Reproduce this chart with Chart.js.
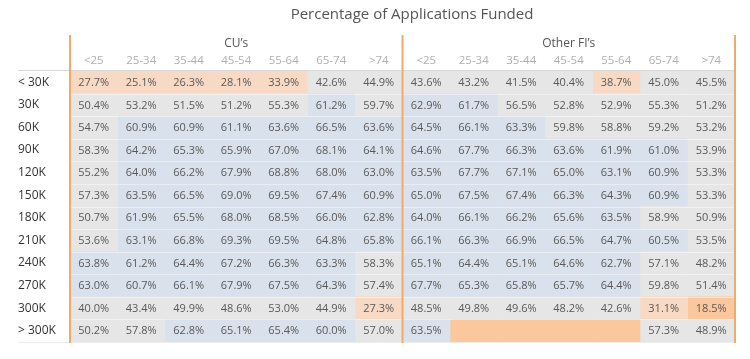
<!DOCTYPE html>
<html>
<head>
<meta charset="utf-8">
<script src="https://cdn.jsdelivr.net/npm/chart.js@4/dist/chart.umd.min.js"></script>
<style>
  html, body { margin: 0; padding: 0; background: #ffffff; }
  #wrap { width: 750px; height: 359px; position: relative; }
</style>
</head>
<body>
<div id="wrap"><canvas id="c"></canvas></div>
<script>
// ---- Data ----
const chartTitle = "Percentage of Applications Funded";
const groups = ["CU’s", "Other FI’s"];
const ages = ["<25", "25-34", "35-44", "45-54", "55-64", "65-74", ">74"];
const incomeRows = ["< 30K", "30K", "60K", "90K", "120K", "150K", "180K", "210K", "240K", "270K", "300K", "> 300K"];

// CU's values: one array per income row, columns follow ages
const cuValues = [
  [27.7, 25.1, 26.3, 28.1, 33.9, 42.6, 44.9],
  [50.4, 53.2, 51.5, 51.2, 55.3, 61.2, 59.7],
  [54.7, 60.9, 60.9, 61.1, 63.6, 66.5, 63.6],
  [58.3, 64.2, 65.3, 65.9, 67.0, 68.1, 64.1],
  [55.2, 64.0, 66.2, 67.9, 68.8, 68.0, 63.0],
  [57.3, 63.5, 66.5, 69.0, 69.5, 67.4, 60.9],
  [50.7, 61.9, 65.5, 68.0, 68.5, 66.0, 62.8],
  [53.6, 63.1, 66.8, 69.3, 69.5, 64.8, 65.8],
  [63.8, 61.2, 64.4, 67.2, 66.3, 63.3, 58.3],
  [63.0, 60.7, 66.1, 67.9, 67.5, 64.3, 57.4],
  [40.0, 43.4, 49.9, 48.6, 53.0, 44.9, 27.3],
  [50.2, 57.8, 62.8, 65.1, 65.4, 60.0, 57.0]
];
// Other FI's values (null = no label shown, drawn as lowest band)
const otherValues = [
  [43.6, 43.2, 41.5, 40.4, 38.7, 45.0, 45.5],
  [62.9, 61.7, 56.5, 52.8, 52.9, 55.3, 51.2],
  [64.5, 66.1, 63.3, 59.8, 58.8, 59.2, 53.2],
  [64.6, 67.7, 66.3, 63.6, 61.9, 61.0, 53.9],
  [63.5, 67.7, 67.1, 65.0, 63.1, 60.9, 53.3],
  [65.0, 67.5, 67.4, 66.3, 64.3, 60.9, 53.3],
  [64.0, 66.1, 66.2, 65.6, 63.5, 58.9, 50.9],
  [66.1, 66.3, 66.9, 66.5, 64.7, 60.5, 53.5],
  [65.1, 64.4, 65.1, 64.6, 62.7, 57.1, 48.2],
  [67.7, 65.3, 65.8, 65.7, 64.4, 59.8, 51.4],
  [48.5, 49.8, 49.6, 48.2, 42.6, 31.1, 18.5],
  [63.5, null, null, null, null, 57.3, 48.9]
];

// ---- Colour bands ----
function cellColor(v) {
  if (v === null || v < 20) return '#fbc89d';
  if (v < 40) return '#f8d9c4';
  if (v < 60) return '#e6e6e6';
  return '#d9e1ec';
}

const FONT = "'Open Sans', 'DejaVu Sans', sans-serif";
const columnLabels = groups.flatMap(() => ages);
const groupValues = [cuValues, otherValues];

const datasets = [];
groupValues.forEach((vals, g) => {
  ages.forEach((age, a) => {
    const colVals = vals.map(row => row[a]);
    datasets.push({
      label: groups[g] + ' ' + age,
      data: incomeRows.map(() => 1),
      cellValues: colVals,
      backgroundColor: colVals.map(cellColor),
      borderWidth: 0,
      barPercentage: 1,
      categoryPercentage: 1,
      xAxisID: 'x',
      yAxisID: 'y'
    });
  });
});

const decorPlugin = {
  id: 'decor',
  beforeDraw(chart) {
    const ctx = chart.ctx;
    ctx.save();
    ctx.fillStyle = '#ffffff';
    ctx.fillRect(0, 0, chart.width, chart.height);
    ctx.restore();
  },
  afterDatasetsDraw(chart) {
    const ctx = chart.ctx;
    const area = chart.chartArea;
    const x = chart.scales.x;
    const yAx = chart.scales.y;
    ctx.save();
    // faint row separators
    ctx.strokeStyle = 'rgba(255,255,255,0.45)';
    ctx.lineWidth = 1;
    for (let i = 1; i < incomeRows.length; i++) {
      const py = Math.round((yAx.getPixelForValue(i - 1) + yAx.getPixelForValue(i)) / 2) + 0.5;
      ctx.beginPath();
      ctx.moveTo(area.left, py);
      ctx.lineTo(area.right, py);
      ctx.stroke();
    }
    // cell labels
    ctx.font = "11px " + FONT;
    ctx.fillStyle = '#595959';
    ctx.textAlign = 'center';
    ctx.textBaseline = 'middle';
    chart.data.datasets.forEach((ds, i) => {
      const meta = chart.getDatasetMeta(i);
      meta.data.forEach((el, j) => {
        const v = ds.cellValues[j];
        if (v === null) return;
        const p = el.getCenterPoint();
        ctx.fillText(v.toFixed(1) + '%', p.x, p.y + 0.5);
      });
    });
    // horizontal rule lines
    ctx.strokeStyle = '#d9d9d9';
    ctx.lineWidth = 1;
    ctx.beginPath();
    ctx.moveTo(yAx.left, Math.round(area.top) - 0.5);
    ctx.lineTo(area.right, Math.round(area.top) - 0.5);
    ctx.stroke();
    ctx.strokeStyle = '#ececec';
    ctx.beginPath();
    ctx.moveTo(yAx.left, Math.round(area.bottom) + 0.5);
    ctx.lineTo(area.right, Math.round(area.bottom) + 0.5);
    ctx.stroke();
    // orange panel separators
    ctx.strokeStyle = '#f2aa6c';
    ctx.lineWidth = 2;
    const top = chart.scales.xGroup.top + 2;
    [0, ages.length, ages.length * 2].forEach(v => {
      const px = x.getPixelForValue(v);
      ctx.beginPath();
      ctx.moveTo(px, top);
      ctx.lineTo(px, area.bottom + 1);
      ctx.stroke();
    });
    // title
    ctx.font = "15px " + FONT;
    ctx.fillStyle = '#555555';
    ctx.textAlign = 'center';
    ctx.textBaseline = 'middle';
    ctx.fillText(chartTitle, 412, 15);
    ctx.restore();
  }
};

new Chart(document.getElementById('c'), {
  type: 'bar',
  data: { labels: incomeRows, datasets },
  options: {
    indexAxis: 'y',
    responsive: true,
    maintainAspectRatio: false,
    animation: false,
    layout: { padding: { left: 18, right: 15, top: 33, bottom: 17 } },
    plugins: {
      legend: { display: false },
      tooltip: { enabled: false },
      title: { display: false }
    },
    scales: {
      x: {
        type: 'linear', stacked: true, min: 0, max: ages.length * 2,
        display: false
      },
      y: {
        type: 'category', stacked: true, position: 'left',
        grid: { display: false }, border: { display: false },
        ticks: {
          color: '#333333', font: { family: FONT, size: 12 },
          crossAlign: 'far', autoSkip: false, padding: 0
        },
        afterFit(s) { s.width = 52; }
      },
      xAge: {
        type: 'category', position: 'top', labels: columnLabels, offset: true,
        weight: 0,
        grid: { display: false, drawTicks: false }, border: { display: false },
        ticks: {
          color: '#b0b0b0', font: { family: FONT, size: 11.5 },
          autoSkip: false, maxRotation: 0, padding: 3
        },
        afterFit(s) { s.height = 19; }
      },
      xGroup: {
        type: 'category', position: 'top', labels: groups, offset: true,
        weight: 1,
        grid: { display: false, drawTicks: false }, border: { display: false },
        ticks: {
          color: '#555555', font: { family: FONT, size: 12 },
          autoSkip: false, maxRotation: 0, padding: 1
        },
        afterFit(s) { s.height = 19; }
      }
    }
  },
  plugins: [decorPlugin]
});
</script>
</body>
</html>
